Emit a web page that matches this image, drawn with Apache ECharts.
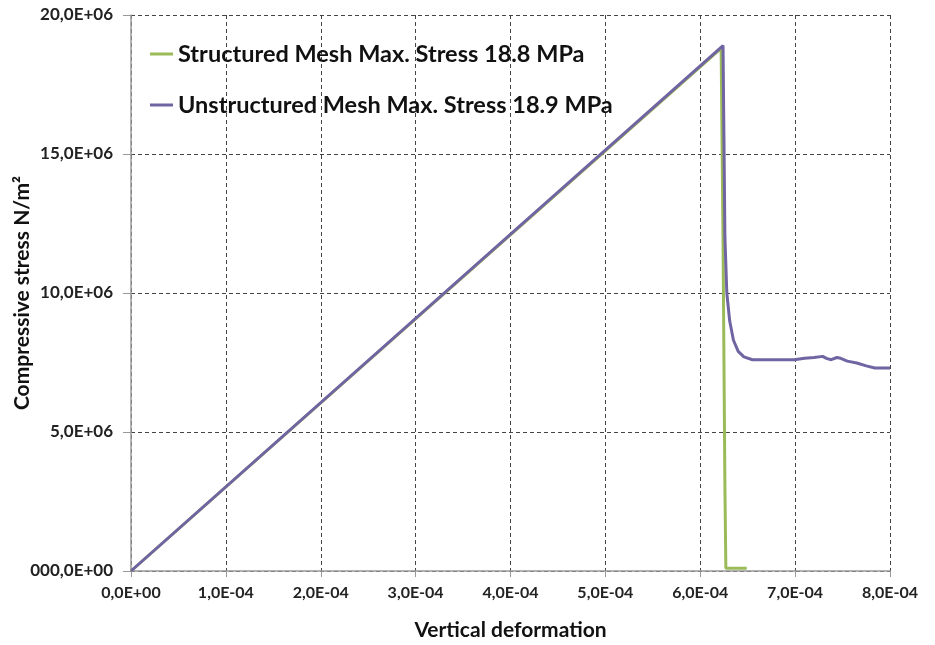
<!DOCTYPE html>
<html><head><meta charset="utf-8">
<script src="https://cdn.jsdelivr.net/npm/echarts@6/dist/echarts.min.js"></script>
<style>html,body{margin:0;padding:0;background:#fff}#c{width:935px;height:645px}</style>
</head><body><div id="c"></div>
<script>
var seriesNames = ['Structured Mesh Max. Stress 18.8 MPa', 'Unstructured Mesh Max. Stress 18.9 MPa'];
var xTicks = [0, 1e-4, 2e-4, 3e-4, 4e-4, 5e-4, 6e-4, 7e-4, 8e-4];
var yTicks = [0, 5e6, 10e6, 15e6, 20e6];
var structuredX = [0, 6.22e-4, 6.24e-4, 6.26e-4, 6.27e-4, 6.49e-4];
var structuredY = [0, 18.8e6, 12e6, 3e6, 0.1e6, 0.1e6];
var unstructuredX = [0, 6.24e-4, 6.25e-4, 6.26e-4, 6.28e-4, 6.31e-4, 6.35e-4, 6.40e-4, 6.46e-4, 6.55e-4, 6.70e-4, 6.99e-4, 7.10e-4, 7.20e-4, 7.29e-4, 7.33e-4, 7.38e-4, 7.44e-4, 7.48e-4, 7.55e-4, 7.65e-4, 7.75e-4, 7.84e-4, 8.0e-4];
var unstructuredY = [0, 18.9e6, 15.5e6, 12.0e6, 10.0e6, 9.0e6, 8.3e6, 7.9e6, 7.7e6, 7.6e6, 7.6e6, 7.6e6, 7.65e6, 7.68e6, 7.72e6, 7.65e6, 7.6e6, 7.68e6, 7.65e6, 7.55e6, 7.48e6, 7.38e6, 7.3e6, 7.3e6];

function zip(a, b) { return a.map(function (v, i) { return [v, b[i]]; }); }

var chart = echarts.init(document.getElementById('c'));
var gridLine = { show: true, lineStyle: { color: '#444', type: [4, 3], width: 1 } };
chart.setOption({
  animation: false,
  grid: { left: 131, right: 45, top: 15, bottom: 74, containLabel: false, outerBoundsMode: 'none' },
  legend: {
    orient: 'vertical', left: 145, top: 37, itemGap: 27,
    icon: 'rect', itemWidth: 23, itemHeight: 3,
    textStyle: { fontFamily: 'Lato', fontWeight: 'bold', fontSize: 23.5, color: '#111' },
    data: seriesNames
  },
  xAxis: {
    type: 'value', min: xTicks[0], max: xTicks[xTicks.length - 1], interval: xTicks[1] - xTicks[0],
    name: 'Vertical deformation', nameLocation: 'middle', nameGap: 49, nameMoveOverlap: false,
    nameTextStyle: { fontFamily: 'Lato', fontWeight: 'bold', fontSize: 21, color: '#111' },
    axisLine: { show: true, lineStyle: { color: '#999', width: 1.5 } },
    axisTick: { show: true, length: 6, lineStyle: { color: '#999' } },
    axisLabel: {
      fontFamily: 'Lato', fontWeight: 'bold', fontSize: 16, color: '#222', margin: 14,
      formatter: function (v) { var n = Math.round(v * 1e4); return n === 0 ? '0,0E+00' : n + ',0E-04'; }
    },
    splitLine: gridLine
  },
  yAxis: {
    type: 'value', min: yTicks[0], max: yTicks[yTicks.length - 1], interval: yTicks[1] - yTicks[0],
    name: 'Compressive stress N/m\u00B2', nameLocation: 'middle', nameGap: 98, nameMoveOverlap: false,
    nameTextStyle: { fontFamily: 'Lato', fontWeight: 'bold', fontSize: 21, color: '#111' },
    axisLine: { show: true, lineStyle: { color: '#999', width: 1.5 } },
    axisTick: { show: true, length: 8, lineStyle: { color: '#999' } },
    axisLabel: {
      fontFamily: 'Lato', fontWeight: 'bold', fontSize: 17, color: '#222', margin: 18,
      formatter: function (v) { var n = Math.round(v / 1e6); return n === 0 ? '000,0E+00' : n + ',0E+06'; }
    },
    splitLine: gridLine
  },
  series: [
    { name: seriesNames[0], type: 'line', showSymbol: false, color: '#9BBB59',
      lineStyle: { width: 3, color: '#9BBB59' }, data: zip(structuredX, structuredY), z: 2 },
    { name: seriesNames[1], type: 'line', showSymbol: false, color: '#7064A2',
      lineStyle: { width: 3, color: '#7064A2' }, data: zip(unstructuredX, unstructuredY), z: 3 }
  ]
});
</script></body></html>
